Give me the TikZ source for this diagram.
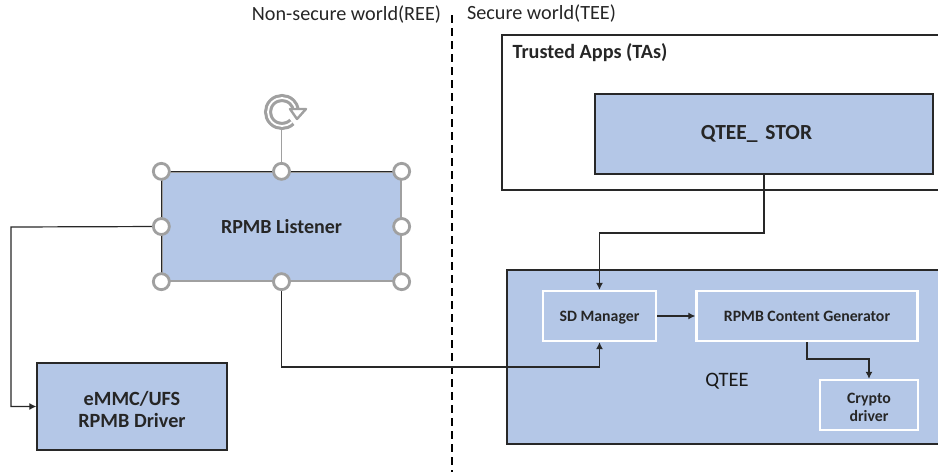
\documentclass[tikz,border=0pt]{standalone}
\usepackage{fontspec}
\setmainfont{Carlito}
\usetikzlibrary{arrows.meta}

\definecolor{boxblue}{RGB}{180,199,231}
\definecolor{handlegray}{RGB}{160,160,160}
\definecolor{wiredark}{RGB}{40,40,40}

\tikzset{
	bluebox/.style={draw=wiredark, fill=boxblue, line width=1.3pt, inner sep=0pt, align=center, text=black!85},
	innerbox/.style={draw=white, fill=boxblue, line width=2.4pt, inner sep=0pt, align=center, text=black!85, text depth=0pt, font=\fontsize{15.8}{18}\selectfont\bfseries},
	wire/.style={draw=wiredark, line width=1.2pt},
	wirearrow/.style={wire, -{Latex[length=7pt, width=7pt]}},
	handle/.style={circle, draw=handlegray, fill=white, line width=2.8pt, minimum size=16pt, inner sep=0pt},
}

\begin{document}
\begin{tikzpicture}[x=1pt, y=-1pt]

		\useasboundingbox (0, 0) rectangle (938, 472);

		% world labels and divider
		\node [font=\fontsize{20.2}{22}\selectfont, text=black!85] (reelabel) at (346.5, 15) {Non-secure world(REE)};
		\node [font=\fontsize{20.2}{22}\selectfont, text=black!85] (teelabel) at (541.5, 14) {Secure world(TEE)};
		\coordinate (divtop) at (452, 15);
		\coordinate (divbottom) at (452, 472);
		\draw [line width=2.6pt, dash pattern=on 8pt off 5pt] (divtop) -- (divbottom);

		% trusted apps
		\node [draw=wiredark, line width=1.3pt, minimum width=446pt, minimum height=155pt, inner sep=0pt] (tabox) at (725, 112.5) {};
		\node [anchor=west, font=\fontsize{20.2}{22}\selectfont\bfseries, text=black!85] (talabel) at (509, 53) {Trusted Apps (TAs)};
		\node [bluebox, minimum width=338pt, minimum height=80pt, font=\fontsize{21.5}{22}\selectfont\bfseries] (qteestor) at (764, 134) {QTEE\_\hspace{3pt} STOR\hspace*{15pt}};

		% qtee
		\node [bluebox, minimum width=440pt, minimum height=174pt] (qteebox) at (727, 357) {};
		\node [font=\fontsize{20.5}{22}\selectfont, text=black!90] (qteelabel) at (727, 381) {QTEE};
		\node [innerbox, minimum width=113pt, minimum height=50pt] (sdmanager) at (599.5, 316) {SD Manager};
		\node [innerbox, minimum width=221pt, minimum height=50pt] (contentgen) at (807, 316) {RPMB Content Generator};
		\node [innerbox, minimum width=98pt, minimum height=50pt] (cryptodriver) at (869, 405) {\rule{0pt}{14pt}Crypto\\driver};

		% listener and driver
		\node [bluebox, draw=handlegray, minimum width=239pt, minimum height=109pt, font=\fontsize{20}{22}\selectfont\bfseries] (listener) at (281.5, 226.5) {RPMB Listener};
		\draw [wire] (listener.south west) -- (listener.north west) -- (listener.north east);
		\node [bluebox, text depth=0pt, minimum width=190pt, minimum height=87pt, font=\fontsize{20.2}{22}\selectfont\bfseries] (driver) at (132, 406.5) {\rule{0pt}{19pt}eMMC/UFS\\RPMB Driver};

		% connectors
		\coordinate (storbend) at (764, 233);
		\draw [wirearrow] (qteestor.south) -- (storbend) -| (sdmanager.north);

		\coordinate (leftbend) at (11, 227);
		\coordinate (leftdown) at (11, 406.5);
		\draw [wirearrow] (listener.west) -- (leftbend) -- (leftdown) -- (driver.west);

		\coordinate (lowbend) at (281.5, 367);
		\draw [wirearrow] (listener.south) -- (lowbend) -| (sdmanager.south);

		\draw [wirearrow] (sdmanager.east) -- (contentgen.west);

		\coordinate (genout) at (807, 359);
		\draw [wirearrow] (contentgen.south) -- (genout) -| (cryptodriver.north);

		% rotate handle
		\coordinate (rotcenter) at (282, 112);
		\draw [handlegray, line width=1.4pt] (listener.north) -- (281.5, 130);
		\draw [handlegray, line width=8pt] (rotcenter) ++(45:14) arc[start angle=45, end angle=350, radius=14];
		\draw [white, line width=1.8pt] (rotcenter) ++(45:14) arc[start angle=45, end angle=350, radius=14];
		\draw [handlegray, line width=2.4pt, fill=white, line join=round] (290, 109) -- (306, 109) -- (297, 119) -- cycle;

		% selection handles
		\foreach \pos/\hname in {north west/hnw, north/hn, north east/hne, west/hw, east/he, south west/hsw, south/hs, south east/hse}
			\node [handle] (\hname) at (listener.\pos) {};

\end{tikzpicture}
\end{document}
